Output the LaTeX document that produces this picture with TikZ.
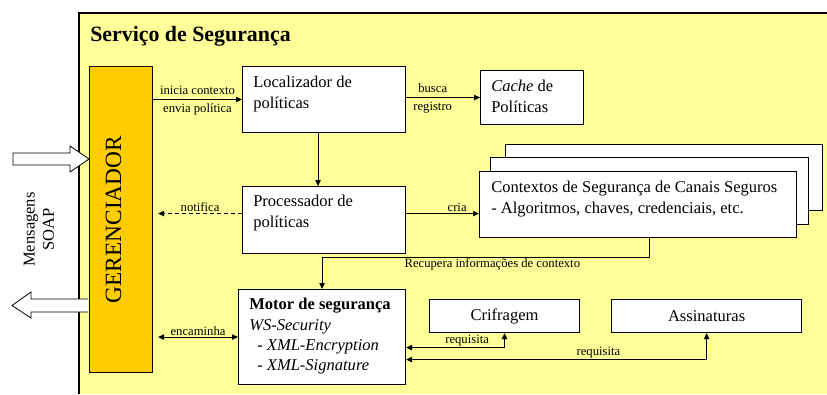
\documentclass[tikz,border=0pt]{standalone}
\usepackage{fontspec}
\setmainfont{Liberation Serif}
\usetikzlibrary{positioning}
\usetikzlibrary {arrows.meta}
\definecolor{servyellow}{RGB}{255,255,153}
\definecolor{gerorange}{RGB}{255,204,0}
\tikzset{secbox/.style={rectangle,draw=black,fill=white,line width=0.8pt,
inner sep=0pt}}
\tikzset{boxtext/.style={anchor=north west,inner sep=0pt,align=left,
font=\fontsize{12.4}{15.75}\selectfont}}
\tikzset{steplabel/.style={inner sep=1pt,font=\fontsize{9.5}{11}\selectfont}}
\tikzset{flow/.style={line width=0.8pt,-{Triangle[length=4.5pt,width=4pt]}}}
\tikzset{flowboth/.style={line width=0.8pt,
{Triangle[length=4.5pt,width=4pt]}-{Triangle[length=4.5pt,width=4pt]}}}
\tikzset{bigarrow/.style={draw=black,fill=white,line width=0.6pt}}

\begin{document}
\begin{tikzpicture}[x=0.75pt,y=-0.75pt]
    \useasboundingbox (0,0) rectangle (827,394);

    % area do servico
    \fill[servyellow] (79,13) rectangle (827,394);
    \draw[line width=0.8pt] (827,13) -- (79,13) -- (79,394);
    \node[anchor=base west,inner sep=0pt,font=\fontsize{16.4}{20}\selectfont\bfseries] (titulo) at (90,41) {Serviço de Segurança};

    % gerenciador
    \node[secbox,fill=gerorange,minimum width=47.25pt,minimum height=229.5pt,anchor=north west] (ger) at (89,66) {};
    \node[rotate=90,inner sep=0pt,font=\fontsize{17.5}{20}\selectfont] (gertxt) at ([xshift=-5.6pt]ger.center) {GERENCIADOR};

    % caixas
    \node[secbox,minimum width=122.25pt,minimum height=49.5pt,anchor=north west] (loc) at (242,66) {};
    \node[boxtext] (loctxt) at (253,76) {Localizador de\\políticas};

    \node[secbox,minimum width=77.25pt,minimum height=40.5pt,right=55.5pt of loc,yshift=1.5pt] (cache) {};
    \node[boxtext] (cachetxt) at (491,80) {\textit{Cache} de\\Políticas};

    \node[secbox,minimum width=237.75pt,minimum height=49.5pt,anchor=north west] (ctxback) at (505,144) {};
    \node[secbox,minimum width=238.5pt,minimum height=50.25pt,anchor=north west] (ctxmid) at (490,157) {};
    \node[secbox,minimum width=237.75pt,minimum height=49.5pt,anchor=north west] (ctx) at (479,171) {};
    \node[boxtext] (ctxtxt) at (491,181) {Contextos de Segurança de Canais Seguros\\- Algoritmos, chaves, credenciais, etc.};

    \node[secbox,minimum width=122.25pt,minimum height=50.25pt,below=39.75pt of loc] (proc) {};
    \node[boxtext] (proctxt) at (253,195) {Processador de\\políticas};

    \node[secbox,minimum width=125.25pt,minimum height=71.25pt,anchor=north west] (motor) at (238,289) {};
    \node[boxtext,font=\fontsize{12.4}{15.2}\selectfont] (motortxt) at (249,298) {\textbf{Motor de segurança}\\\textit{WS-Security}\\\hspace*{6pt}- \textit{XML-Encryption}\\\hspace*{6pt}- \textit{XML-Signature}};

    \node[secbox,minimum width=112.5pt,minimum height=24.75pt,anchor=north west,font=\fontsize{12.4}{15}\selectfont] (crif) at (429,299) {Crifragem};
    \node[secbox,minimum width=142.5pt,minimum height=24.75pt,right=23.25pt of crif,font=\fontsize{12.4}{15}\selectfont] (assin) {Assinaturas};

    % conexoes
    \coordinate (gerR) at ([xshift=3.75pt]ger.east);
    \coordinate (procL) at ([yshift=4.9pt]proc.west);
    \coordinate (procR) at ([yshift=4.9pt]proc.east);
    \draw[flow] (ger.east |- loc.west) --node[steplabel,above=2pt] {inicia contexto} node[steplabel,below=2pt] {envia política} (loc.west);
    \draw[flow] (loc.east |- cache.west) --node[steplabel,above=2pt,pos=0.36] {busca} node[steplabel,below=2pt,pos=0.36] {registro} (cache.west);
    \draw[flow] ([xshift=-4.5pt]loc.south) -- ([xshift=-4.5pt]proc.north);
    \draw[flow,dash pattern=on 3pt off 2.25pt] (procL) --node[steplabel,above] {notifica} (gerR |- procL);
    \draw[flow] (procR) --node[steplabel,above,pos=0.7] {cria} (ctx.west |- procR);
    \draw[flow] ([xshift=8.6pt]ctx.south) -- ++(0,19) -|node[steplabel,below,pos=0.24] {Recupera informações de contexto} (motor.north);
    \draw[flowboth] (gerR |- motor.west) --node[steplabel,above] {encaminha} (motor.west);
    \draw[flowboth] ([yshift=-7.9pt]motor.east) -|node[steplabel,above,pos=0.31] {requisita} (crif.south);
    \draw[flowboth] ([yshift=-16.9pt]motor.east) -|node[steplabel,above,pos=0.32] {requisita} (assin.south);

    % mensagens SOAP
    \draw[bigarrow] (13,153) -- (70,153) -- (70,146) -- (89,159) -- (70,172) -- (70,165) -- (13,165) -- cycle;
    \draw[bigarrow] (88,299) -- (31,299) -- (31,292) -- (12,305.5) -- (31,318) -- (31,312) -- (88,312);
    \node[rotate=90,align=center,font=\fontsize{12.4}{14.5}\selectfont] (msgs) at (39,229.5) {Mensagens\\SOAP};

\end{tikzpicture}
\end{document}
